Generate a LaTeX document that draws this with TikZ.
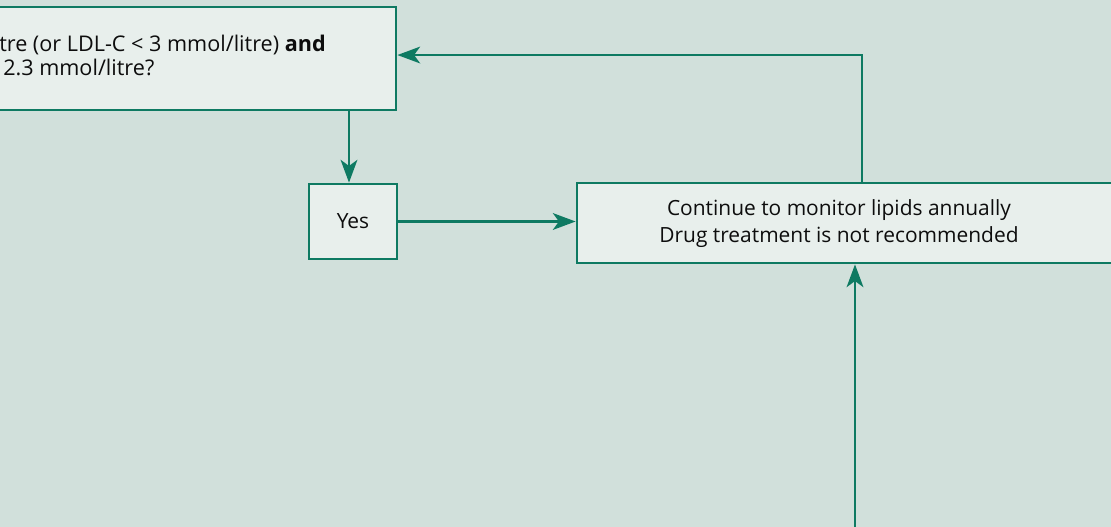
\documentclass[tikz,border=0pt]{standalone}
\usepackage{fontspec}
\setmainfont{Open Sans}
\usetikzlibrary{arrows.meta}
\definecolor{bg}{HTML}{D1E0DB}
\definecolor{boxfill}{HTML}{E8EFEC}
\definecolor{edge}{HTML}{0E7A62}
\begin{document}
\begin{tikzpicture}[x=0.75pt,y=-0.75pt,
  box/.style={draw=edge, fill=boxfill, line width=2.1pt, inner sep=0pt},
  conn/.style={draw=edge, line width=2.1pt, -{Stealth[length=17pt,width=12.5pt,inset=4.5pt]}},
  txt/.style={font=\fontsize{15.7}{20.3}\selectfont, text=black!95, inner sep=0pt}]
\fill[bg] (0,0) rectangle (1111,527);
\useasboundingbox (0,0) rectangle (1111,527);
\begin{scope}
\clip (0,0) rectangle (1111,527);
\node[box, minimum width=447pt, minimum height=77.25pt] (q) at (98,58.5) {};
\node[txt, anchor=base west, font=\fontsize{16.2}{20}\selectfont] (q1) at (-1,52) {tre (or LDL-C < 3 mmol/litre) \textbf{and}};
\node[txt, anchor=base west, font=\fontsize{16.2}{20}\selectfont] (q2) at (3,76) {2.3 mmol/litre?};
\node[box, minimum width=66pt, minimum height=56.25pt] (yes) at (353,221.5) {};
\node[txt] (yest) at (353,221.5) {Yes};
\node[box, minimum width=452.25pt, minimum height=60pt] (cont) at (878.5,223) {};
\node[txt, align=center] (contt) at (839,224) {Continue to monitor lipids annually\\Drug treatment is not recommended};
\coordinate (src) at (855,540);
\draw[conn] ([xshift=-3pt]yes.north |- q.south) -- ([xshift=-3pt]yes.north);
\draw[conn] (yes.east) -- (yes.east -| cont.west);
\draw[conn] ([xshift=-12.4pt]cont.north) |- ([yshift=2.6pt]q.east);
\draw[conn] (src) -- (src |- cont.south);
\end{scope}
\end{tikzpicture}
\end{document}
